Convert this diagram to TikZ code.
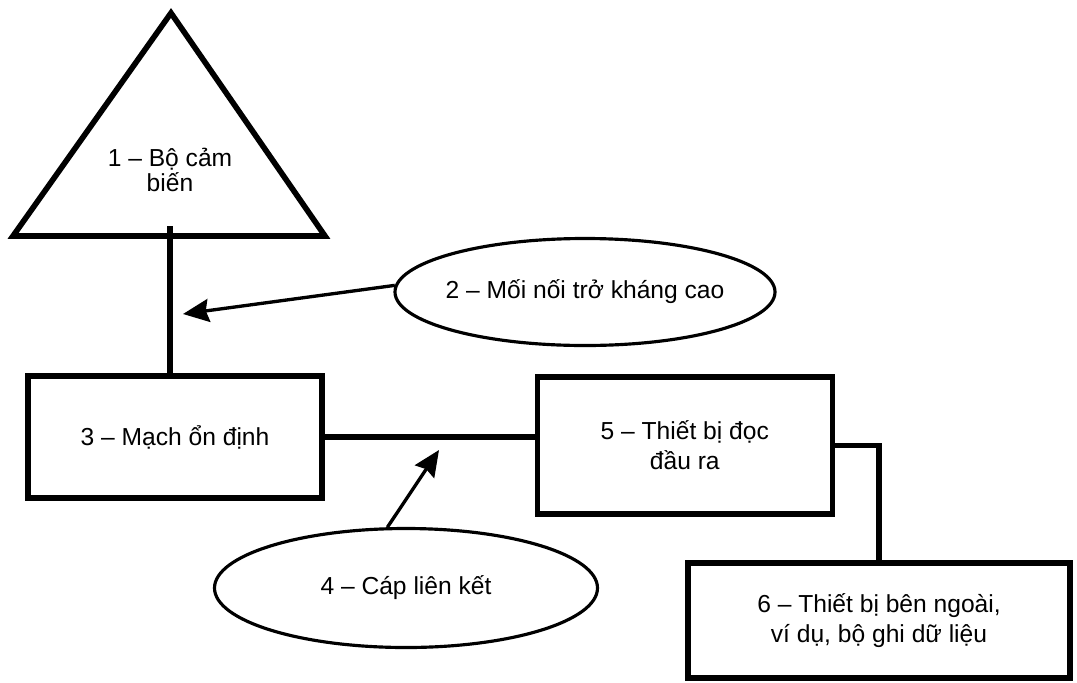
\documentclass[tikz,border=0pt]{standalone}
\usepackage{fontspec}
\setmainfont{Liberation Sans}
\usepackage{tikz}
\usetikzlibrary{shapes.geometric, arrows.meta, positioning}
\tikzstyle{block} = [rectangle, draw=black, line width=3pt, text centered, align=center]
\tikzstyle{callout} = [ellipse, draw=black, line width=1.8pt, inner sep=0pt]
\tikzstyle{wire} = [line width=3pt]
\tikzstyle{pointer} = [line width=1.9pt, -{Stealth[length=5.2mm, width=4.6mm, inset=0.6mm]}]

\begin{document}
\begin{tikzpicture}[x=0.2mm, y=-0.2mm, font=\fontsize{14}{17}\selectfont]
\useasboundingbox (0,0) rectangle (1077,682);

% Sensor
\draw [line width=3.2pt] (171,13) -- (325,236) -- (13,236) -- cycle;
\node (sensor) at (170,170) [align=center, font=\fontsize{14}{14.2}\selectfont] {1 – Bộ cảm\\biến};
\coordinate (sensorbase) at (170,226);

% Stabilising circuit
\node (stab) [block, minimum width=58.8mm, minimum height=24.4mm] at (175,437) {3 – Mạch ổn định};

% Readout
\node (readout) [block, minimum width=59mm, minimum height=27.4mm, right=42mm of stab, yshift=-1.7mm] {5 – Thiết bị đọc\\đầu ra};

% External device
\node (logger) [block, minimum width=76.4mm, minimum height=23mm] at (879,620.5) {6 – Thiết bị bên ngoài,\\ví dụ, bộ ghi dữ liệu};

% Callouts
\node (joint) [callout, minimum width=76mm, minimum height=21.4mm, label=center:{2 – Mối nối trở kháng cao}] at (585,292) {};
\node (cable) [callout, minimum width=76.6mm, minimum height=23.8mm, label=center:{4 – Cáp liên kết}] at (406,588) {};
\coordinate (jointtip) at (183,314);
\coordinate (cabletip) at (439,450);

% Wires
\draw [wire] (sensorbase) -- (sensorbase |- stab.north);
\draw [wire] (stab.east) -- (stab.east -| readout.west);
\draw [wire] (readout.east) -| (logger.north);

% Arrows
\draw [pointer] (joint.178) -- (jointtip);
\draw [pointer] (cable.107) -- (cabletip);

\end{tikzpicture}
\end{document}
